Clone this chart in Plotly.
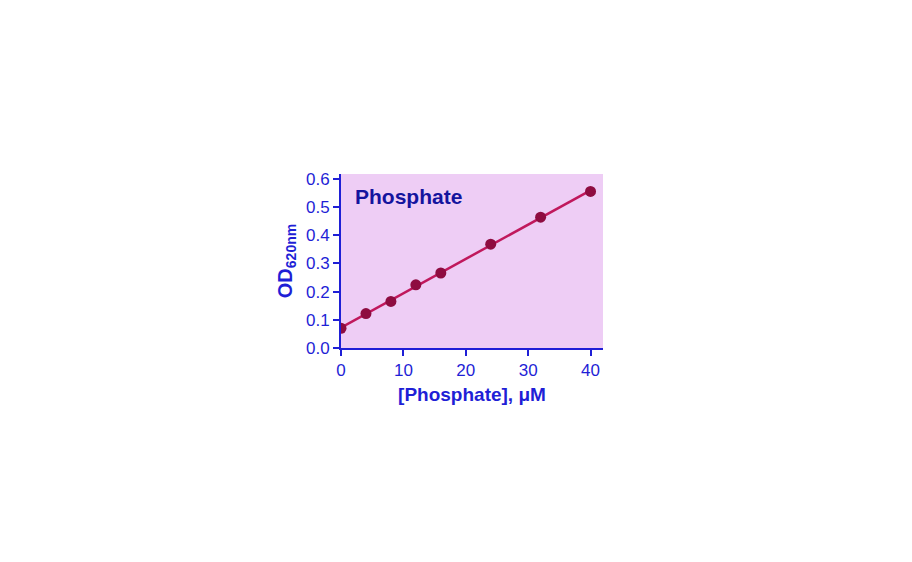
import numpy as np
import plotly.graph_objects as go

conc = [0, 4, 8, 12, 16, 24, 32, 40]
od = [0.070, 0.122, 0.165, 0.224, 0.266, 0.368, 0.464, 0.555]
x_ticks = [0, 10, 20, 30, 40]
y_ticks = [0.0, 0.1, 0.2, 0.3, 0.4, 0.5, 0.6]

slope, intercept = np.polyfit(conc, od, 1)
fit_x = [min(conc), max(conc)]
fit_y = [intercept + slope * v for v in fit_x]

axis_blue = "#1f1fd6"
fig = go.Figure()
fig.add_trace(go.Scatter(x=fit_x, y=fit_y, mode="lines",
                         line=dict(color="#c0185c", width=2.5), hoverinfo="skip"))
fig.add_trace(go.Scatter(x=conc, y=od, mode="markers",
                         marker=dict(color="#8e0c40", size=11)))

fig.update_layout(
    width=912, height=562,
    margin=dict(l=333, r=317, t=166, b=222),
    paper_bgcolor="white", plot_bgcolor="#eecdf5",
    showlegend=False,
    font=dict(family="Liberation Sans, Arial, sans-serif", color=axis_blue, size=17),
    annotations=[dict(text="<b>Phosphate</b>", x=0.045, y=0.868, xref="paper", yref="paper",
                      xanchor="left", yanchor="middle", showarrow=False,
                      font=dict(size=21, color="#14149e"))],
)
fig.update_xaxes(range=[0, 42], tickvals=x_ticks, ticktext=[str(v) for v in x_ticks],
                 showgrid=False, zeroline=False, showline=True, linecolor=axis_blue, linewidth=2,
                 ticks="outside", ticklen=6, tickwidth=2, tickcolor=axis_blue,
                 tickfont=dict(size=17, color=axis_blue),
                 title=dict(text="<b>[Phosphate], μM</b>", font=dict(size=19, color=axis_blue), standoff=8))
fig.update_yaxes(range=[0, 0.617], tickvals=y_ticks, ticktext=[f"{v:.1f}" for v in y_ticks],
                 showgrid=False, zeroline=False, showline=True, linecolor=axis_blue, linewidth=2,
                 ticks="outside", ticklen=6, tickwidth=2, tickcolor=axis_blue,
                 tickfont=dict(size=17, color=axis_blue),
                 title=dict(text="<b>OD<sub>620nm</sub></b>", font=dict(size=20, color=axis_blue), standoff=8))
fig.write_html("out.html")
